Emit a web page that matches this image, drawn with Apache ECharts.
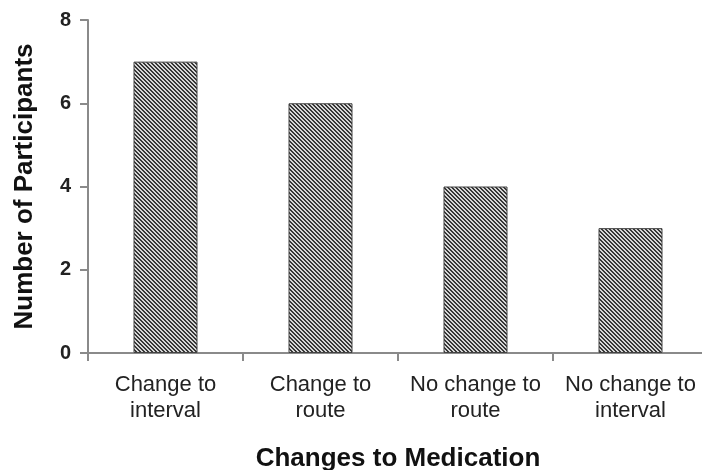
<!DOCTYPE html>
<html>
<head>
<meta charset="utf-8">
<script src="https://cdn.jsdelivr.net/npm/echarts@6/dist/echarts.min.js"></script>
<style>
  html, body { margin: 0; padding: 0; background: #fff; }
  #chart { width: 702px; height: 470px; }
</style>
</head>
<body>
<div id="chart"></div>
<script>
// Medication changes reported by participants
const categories = [
  'Change to\ninterval',
  'Change to\nroute',
  'No change to\nroute',
  'No change to\ninterval'
];
const participants = [7, 6, 4, 3];
const yTicks = { min: 0, max: 8, interval: 2 };

// Diagonal hatch fill for the bars
function makeHatch() {
  const size = 4;
  const c = document.createElement('canvas');
  c.width = size;
  c.height = size;
  const ctx = c.getContext('2d');
  ctx.fillStyle = '#d6d6d6';
  ctx.fillRect(0, 0, size, size);
  ctx.fillStyle = '#363636';
  for (let y = 0; y < size; y++) {
    ctx.fillRect(y % size, y, 1, 1);
    ctx.fillRect((y + 1) % size, y, 1, 1);
  }
  return c;
}

const font = '"Liberation Sans", Arial, sans-serif';
const axisGray = '#8a8a8a';

const chart = echarts.init(document.getElementById('chart'), null, { renderer: 'canvas' });
chart.setOption({
  backgroundColor: '#ffffff',
  animation: false,
  grid: {
    left: 88,
    top: 20,
    right: -6,
    bottom: 117,
    containLabel: false,
    outerBoundsMode: 'none'
  },
  xAxis: {
    type: 'category',
    data: categories,
    boundaryGap: true,
    name: 'Changes to Medication',
    nameLocation: 'middle',
    nameGap: 93,
    nameTextStyle: { fontFamily: font, fontSize: 26, fontWeight: 'bold', color: '#111' },
    axisLine: { lineStyle: { color: axisGray, width: 2 } },
    axisTick: { show: true, inside: false, length: 8, alignWithLabel: false, lineStyle: { color: axisGray, width: 2 } },
    axisLabel: { fontFamily: font, fontSize: 22, lineHeight: 26, color: '#222', margin: 19, interval: 0 },
    splitLine: { show: false }
  },
  yAxis: {
    type: 'value',
    min: yTicks.min,
    max: yTicks.max,
    interval: yTicks.interval,
    name: 'Number of Participants',
    nameLocation: 'middle',
    nameGap: 50,
    nameRotate: 90,
    nameTextStyle: { fontFamily: font, fontSize: 26, fontWeight: 'bold', color: '#111' },
    axisLine: { show: true, lineStyle: { color: axisGray, width: 2 } },
    axisTick: { show: true, inside: false, length: 8, lineStyle: { color: axisGray, width: 2 } },
    axisLabel: { fontFamily: font, fontSize: 20, fontWeight: 'bold', color: '#222', margin: 17 },
    splitLine: { show: false }
  },
  series: [{
    type: 'bar',
    data: participants,
    barWidth: 64,
    itemStyle: {
      color: { image: makeHatch(), repeat: 'repeat' },
      borderColor: '#444444',
      borderWidth: 1
    }
  }]
});
</script>
</body>
</html>
